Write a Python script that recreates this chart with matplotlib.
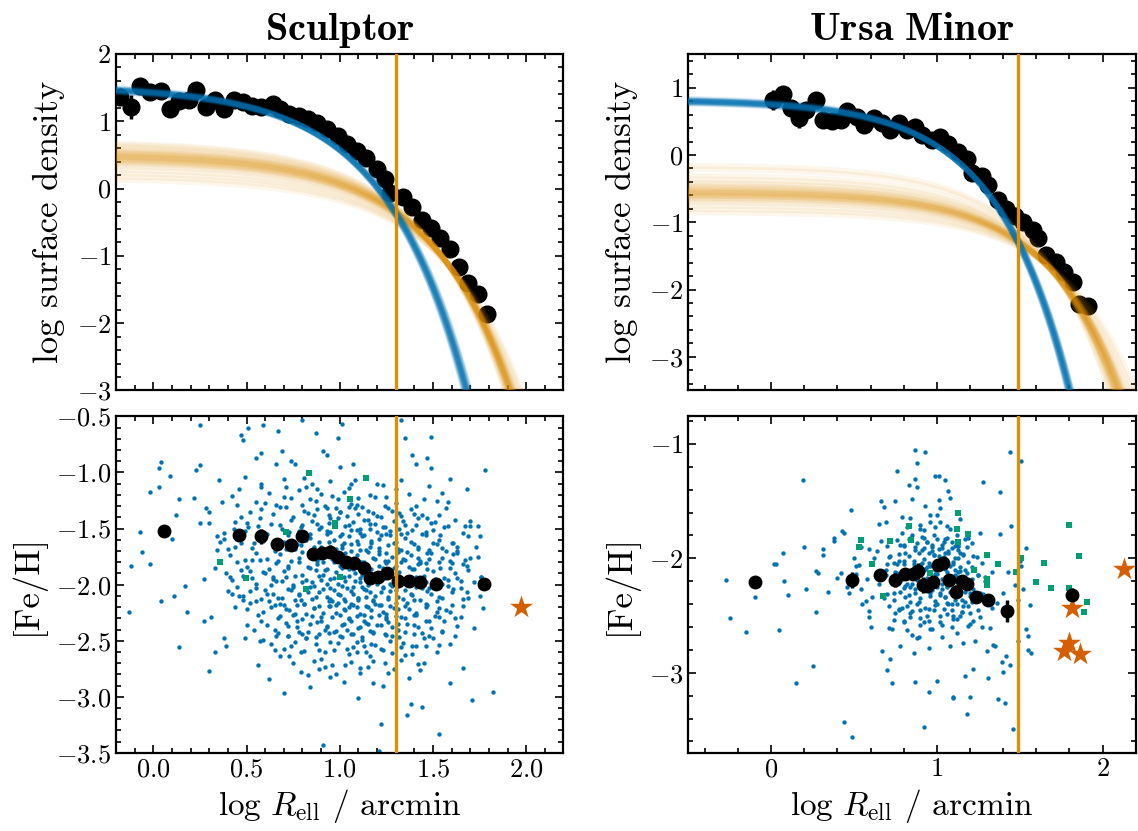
import matplotlib
matplotlib.use("Agg")
import matplotlib.pyplot as plt
import numpy as np
from matplotlib.ticker import MultipleLocator

plt.rcParams['font.family'] = 'serif'
plt.rcParams['font.serif'] = ['cmr10']
plt.rcParams['mathtext.fontset'] = 'cm'
plt.rcParams['axes.formatter.use_mathtext'] = True

BLUE = '#0173b2'
ORANGE = '#de8f05'
GREEN = '#029e73'
RED = '#d55e00'

# ---------------- Sculptor: surface density profile ----------------
scl_prof_x = [-0.18, -0.12, -0.07, -0.02, 0.04, 0.09, 0.14, 0.19, 0.23, 0.28, 0.33, 0.38,
              0.43, 0.48, 0.53, 0.58, 0.64, 0.68, 0.73, 0.78, 0.83, 0.88, 0.93, 0.99,
              1.04, 1.09, 1.14, 1.20, 1.24, 1.27, 1.34, 1.39, 1.44, 1.49, 1.54, 1.59,
              1.64, 1.69, 1.74, 1.79]
scl_prof_y = [1.36, 1.21, 1.53, 1.43, 1.45, 1.18, 1.30, 1.32, 1.46, 1.22, 1.32, 1.18,
              1.32, 1.28, 1.23, 1.22, 1.26, 1.18, 1.11, 1.08, 1.03, 0.98, 0.88, 0.78,
              0.66, 0.56, 0.45, 0.29, 0.14, -0.07, -0.13, -0.27, -0.47, -0.59, -0.74, -0.90,
              -1.16, -1.40, -1.56, -1.87]
scl_prof_err = [0.06, 0.18, 0.04, 0.04, 0.04, 0.04, 0.03, 0.03, 0.03, 0.03, 0.03, 0.03,
                0.03, 0.03, 0.03, 0.03, 0.03, 0.03, 0.03, 0.03, 0.03, 0.03, 0.03, 0.03,
                0.03, 0.03, 0.03, 0.03, 0.03, 0.03, 0.03, 0.04, 0.04, 0.04, 0.05, 0.05,
                0.05, 0.06, 0.07, 0.08]

# posterior draws of the two exponential components (log central density, scale radius / arcmin)
scl_in_logS0 = [1.50, 1.52, 1.53, 1.51, 1.54, 1.49, 1.52, 1.55, 1.50, 1.53, 1.51, 1.52,
                1.54, 1.48, 1.53, 1.51, 1.52, 1.50, 1.56, 1.52, 1.51, 1.53, 1.49, 1.52]
scl_in_Rs = [4.62, 4.50, 4.58, 4.72, 4.46, 4.80, 4.60, 4.42, 4.68, 4.55, 4.66, 4.59,
             4.48, 4.85, 4.53, 4.64, 4.60, 4.75, 4.40, 4.57, 4.70, 4.52, 4.78, 4.61]
scl_out_logS0 = [0.50, 0.45, 0.55, 0.48, 0.52, 0.40, 0.60, 0.35, 0.65, 0.50, 0.47, 0.53,
                 0.30, 0.70, 0.44, 0.56, 0.25, 0.58, 0.42, 0.62, 0.49, 0.51, 0.20, 0.38,
                 0.54, 0.46, 0.15, 0.68, 0.57, 0.43]
scl_out_Rs = [10.2, 10.5, 9.9, 10.3, 10.1, 10.9, 9.6, 11.2, 9.3, 10.2, 10.4, 10.0,
              11.5, 9.0, 10.6, 9.8, 12.0, 9.7, 10.8, 9.45, 10.25, 10.15, 12.5, 11.0,
              10.0, 10.45, 13.0, 9.1, 9.75, 10.7]

# ---------------- Ursa Minor: surface density profile ----------------
umi_prof_x = [0.01, 0.07, 0.12, 0.17, 0.21, 0.27, 0.31, 0.37, 0.42, 0.46, 0.52, 0.56,
              0.62, 0.67, 0.72, 0.77, 0.82, 0.87, 0.91, 0.97, 1.02, 1.07, 1.13, 1.18,
              1.21, 1.27, 1.31, 1.37, 1.42, 1.47, 1.52, 1.58, 1.61, 1.66, 1.72, 1.77,
              1.82, 1.86, 1.91]
umi_prof_y = [0.82, 0.90, 0.70, 0.55, 0.67, 0.82, 0.52, 0.50, 0.52, 0.65, 0.57, 0.45,
              0.55, 0.47, 0.37, 0.47, 0.37, 0.42, 0.30, 0.22, 0.27, 0.17, 0.05, -0.06,
              -0.27, -0.32, -0.45, -0.67, -0.80, -0.90, -1.00, -1.12, -1.24, -1.49, -1.59, -1.74,
              -1.89, -2.21, -2.24]
umi_prof_err = [0.15, 0.08, 0.08, 0.15, 0.06, 0.06, 0.08, 0.06, 0.05, 0.05, 0.05, 0.05,
                0.05, 0.05, 0.05, 0.05, 0.05, 0.05, 0.05, 0.05, 0.05, 0.05, 0.05, 0.05,
                0.05, 0.05, 0.05, 0.05, 0.05, 0.05, 0.05, 0.05, 0.05, 0.06, 0.06, 0.06,
                0.07, 0.07, 0.08]
umi_in_logS0 = [0.82, 0.80, 0.84, 0.81, 0.83, 0.79, 0.82, 0.85, 0.80, 0.83, 0.81, 0.82,
                0.84, 0.78, 0.83, 0.81, 0.82, 0.80, 0.86, 0.82, 0.81, 0.83, 0.79, 0.82]
umi_in_Rs = [6.34, 6.48, 6.22, 6.42, 6.26, 6.58, 6.36, 6.14, 6.50, 6.24, 6.44, 6.33,
             6.18, 6.62, 6.27, 6.40, 6.35, 6.52, 6.10, 6.30, 6.46, 6.22, 6.56, 6.34]
umi_out_logS0 = [-0.55, -0.50, -0.60, -0.52, -0.58, -0.45, -0.65, -0.40, -0.70, -0.55,
                 -0.48, -0.62, -0.35, -0.75, -0.53, -0.57, -0.30, -0.80, -0.50, -0.60,
                 -0.20, -0.42, -0.67, -0.56, -0.85, -0.15, -0.63, -0.47, -0.54, -0.59]
umi_out_Rs = [18.4, 17.4, 19.4, 17.8, 19.0, 17.1, 20.2, 16.5, 21.3, 18.3,
              17.2, 19.6, 15.9, 22.6, 18.0, 18.8, 15.4, 24.1, 17.5, 19.3,
              14.5, 16.7, 20.6, 18.6, 25.9, 14.1, 19.9, 17.0, 18.2, 19.2]

# ---------------- Sculptor: [Fe/H] of member stars ----------------
scl_star_x = [-0.12, -0.13, -0.07, -0.06, -0.02, -0.02, 0.03, 0.04, 0.04, 0.03, 0.09, 0.10, 0.11,
              0.12, 0.14, 0.14, 0.17, 0.18, 0.22, 0.23, 0.25, 0.25, 0.25, 0.27, 0.27, 0.28,
              0.30, 0.30, 0.31, 0.30, 0.33, 0.34, 0.34, 0.35, 0.37, 0.38, 0.38, 0.39, 0.41,
              0.42, 0.42, 0.44, 0.45, 0.46, 0.47, 0.48, 0.48, 0.49, 0.49, 0.50, 0.51, 0.52,
              0.53, 0.55, 0.55, 0.56, 0.58, 0.58, 0.59, 0.59, 0.60, 0.62, 0.64, 0.65, 0.66,
              0.67, 0.68, 0.69, 0.70, 0.71, 0.72, 0.73, 0.74, 0.76, 0.77, 0.78, 0.79, 0.80,
              0.81, 0.82, 0.83, 0.84, 0.85, 0.87, 0.88, 0.89, 0.89, 0.91, 0.91, 0.92, 0.92,
              0.93, 0.95, 0.96, 0.97, 0.98, 0.99, 1.00, 1.01, 1.02, 1.03, 1.04, 1.05, 1.06,
              1.07, 1.08, 1.09, 1.09, 1.10, 1.11, 1.12, 1.13, 1.14, 1.15, 1.16, 1.18, 1.20,
              1.21, 1.22, 1.23, 1.24, 1.25, 1.28, 1.29, 1.30, 1.31, 1.33, 1.33, 1.35, 1.36,
              1.37, 1.38, 1.39, 1.39, 1.41, 1.42, 1.43, 1.44, 1.45, 1.46, 1.47, 1.48, 1.49,
              1.49, 1.50, 1.51, 1.52, 1.53, 1.53, 1.55, 1.55, 1.56, 1.57, 1.58, 1.59, 1.59,
              1.60, 1.61, 1.62, 1.63, 1.65, 1.65, 1.66, 1.67, 1.68, 1.69, 1.70, 1.70, 1.71,
              1.72, 1.73, 1.74, 1.75, 1.76, 1.77, 1.78, 1.82,
              0.62, 0.70, 0.78, 0.84, 0.90, 0.96, 1.02, 1.10, 1.16, 1.25, 1.37, 1.45, 0.55, 0.66,
              0.58, 0.64, 0.71, 0.75, 0.81, 0.86, 0.92, 0.95, 1.00, 1.04, 1.08, 1.13, 1.18,
              1.22, 1.28, 1.34, 1.40, 1.47, 1.53, 1.62, 0.47, 0.52,
              0.49, 0.56, 0.61, 0.68, 0.73, 0.79, 0.83, 0.88, 0.93, 0.97, 1.01, 1.05, 1.09,
              1.12, 1.16, 1.20, 1.24, 1.27, 1.32, 1.36, 1.41, 1.44, 1.50, 1.56, 1.66, 0.43,
              0.47, 0.53, 0.59, 0.65, 0.70, 0.76, 0.82, 0.86, 0.90, 0.94, 0.98, 1.02, 1.06,
              1.10, 1.14, 1.17, 1.21, 1.25, 1.29, 1.33, 1.38, 1.42, 1.47, 1.52, 1.57, 1.63,
              0.40, 0.36,
              0.45, 0.50, 0.57, 0.62, 0.67, 0.72, 0.78, 0.84, 0.88, 0.92, 0.96, 1.00, 1.04,
              1.07, 1.11, 1.15, 1.19, 1.23, 1.26, 1.30, 1.35, 1.39, 1.43, 1.48, 1.54, 1.59,
              1.68, 0.33,
              0.42, 0.48, 0.55, 0.60, 0.66, 0.71, 0.75, 0.80, 0.85, 0.89, 0.93, 0.97, 1.01,
              1.05, 1.08, 1.12, 1.16, 1.20, 1.24, 1.28, 1.32, 1.37, 1.41, 1.45, 1.51, 1.58,
              1.63, 1.72,
              0.46, 0.52, 0.58, 0.64, 0.69, 0.74, 0.79, 0.83, 0.87, 0.91, 0.95, 0.99, 1.03,
              1.06, 1.10, 1.14, 1.18, 1.22, 1.26, 1.30, 1.34, 1.38, 1.43, 1.47, 1.53, 1.60,
              1.66,
              0.50, 0.56, 0.63, 0.68, 0.73, 0.77, 0.82, 0.86, 0.90, 0.94, 0.98, 1.02, 1.05,
              1.09, 1.13, 1.17, 1.21, 1.25, 1.29, 1.33, 1.37, 1.41, 1.46, 1.51, 1.57, 1.62,
              0.54, 0.61, 0.67, 0.72, 0.78, 0.84, 0.89, 0.93, 0.97, 1.01, 1.07, 1.11, 1.16,
              1.20, 1.24, 1.28, 1.35, 1.40, 1.44, 1.49, 1.55,
              0.63, 0.70, 0.76, 0.81, 0.87, 0.92, 0.99, 1.04, 1.09, 1.14, 1.19, 1.23, 1.27,
              1.33, 1.39, 1.46, 1.52,
              0.75, 0.86, 0.96, 1.06, 1.15, 1.24, 1.33, 1.42]
scl_star_feh = [-1.83, -2.24, -1.53, -1.71, -1.17, -1.82, -1.13, -2.15, -0.91, -0.96, -1.03, -1.59, -2.10,
                -1.38, -2.56, -1.24, -2.01, -2.24, -1.23, -0.98, -0.93, -0.58, -1.45, -1.95, -2.32, -1.32,
                -1.35, -2.77, -2.29, -1.45, -2.60, -1.69, -1.57, -1.07, -1.26, -2.48, -1.54, -2.55, -1.93,
                -2.08, -1.21, -1.66, -2.02, -1.15, -0.67, -0.71, -2.14, -2.48, -1.04, -1.45, -0.60, -1.88,
                -1.78, -2.15, -0.87, -2.72, -0.83, -1.13, -0.58, -2.49, -2.05, -2.84, -1.93, -2.58, -0.92,
                -0.63, -2.17, -0.81, -2.97, -1.13, -2.46, -2.64, -0.90, -0.92, -2.32, -2.08, -2.60, -0.53,
                -1.05, -2.48, -2.81, -2.91, -1.10, -0.65, -1.15, -2.75, -1.76, -0.81, -3.43, -2.40, -2.73,
                -0.84, -2.82, -2.15, -2.58, -1.32, -0.69, -0.95, -0.57, -2.87, -2.72, -2.40, -2.20, -1.10,
                -0.92, -1.07, -2.60, -1.29, -3.01, -2.79, -1.91, -2.55, -2.11, -2.35, -2.64, -2.88, -1.10,
                -3.48, -3.24, -2.90, -1.30, -2.29, -2.61, -2.75, -1.15, -2.35, -0.53, -1.39, -0.69, -3.16,
                -2.83, -3.06, -0.84, -2.55, -0.92, -1.76, -2.76, -3.09, -2.48, -1.81, -0.87, -2.03, -0.68,
                -0.96, -1.63, -1.44, -2.24, -3.33, -2.54, -1.18, -1.99, -2.32, -1.32, -1.26, -2.88, -1.06,
                -1.81, -1.63, -2.46, -1.72, -1.97, -2.29, -2.74, -1.48, -1.15, -2.12, -1.76, -1.48, -3.03,
                -2.39, -1.66, -1.48, -1.57, -1.93, -2.21, -0.98, -2.96,
                -1.18, -1.22, -1.16, -1.24, -1.19, -1.21, -1.17, -1.23, -1.20, -1.22, -1.19, -1.24, -1.26, -1.29,
                -1.33, -1.37, -1.31, -1.40, -1.34, -1.38, -1.30, -1.41, -1.35, -1.39, -1.32, -1.42, -1.36,
                -1.40, -1.34, -1.43, -1.37, -1.41, -1.38, -1.42, -1.40, -1.35,
                -1.52, -1.48, -1.55, -1.47, -1.53, -1.49, -1.56, -1.46, -1.52, -1.48, -1.55, -1.47, -1.51,
                -1.57, -1.46, -1.53, -1.49, -1.56, -1.50, -1.54, -1.47, -1.55, -1.51, -1.49, -1.54, -1.50,
                -1.63, -1.67, -1.61, -1.70, -1.62, -1.68, -1.60, -1.66, -1.72, -1.62, -1.68, -1.63, -1.70,
                -1.64, -1.69, -1.61, -1.67, -1.72, -1.63, -1.69, -1.62, -1.68, -1.72, -1.64, -1.70, -1.66,
                -1.68, -1.62,
                -1.80, -1.84, -1.78, -1.86, -1.79, -1.83, -1.76, -1.85, -1.79, -1.87, -1.77, -1.83, -1.78,
                -1.86, -1.80, -1.84, -1.77, -1.85, -1.79, -1.83, -1.78, -1.86, -1.81, -1.77, -1.85, -1.79,
                -1.83, -1.85,
                -1.96, -1.92, -1.99, -1.90, -1.97, -1.93, -2.00, -1.91, -1.98, -1.92, -1.99, -1.94, -2.01,
                -1.92, -1.97, -2.02, -1.93, -1.99, -1.94, -2.01, -1.92, -1.98, -1.93, -2.00, -1.95, -2.01,
                -1.94, -1.98,
                -2.10, -2.06, -2.13, -2.08, -2.12, -2.05, -2.14, -2.07, -2.11, -2.04, -2.13, -2.08, -2.15,
                -2.06, -2.12, -2.05, -2.14, -2.07, -2.11, -2.05, -2.13, -2.08, -2.14, -2.06, -2.11, -2.07,
                -2.13,
                -2.22, -2.27, -2.20, -2.28, -2.23, -2.18, -2.26, -2.21, -2.29, -2.19, -2.25, -2.22, -2.30,
                -2.20, -2.27, -2.23, -2.18, -2.26, -2.21, -2.29, -2.22, -2.27, -2.20, -2.28, -2.23, -2.30,
                -2.40, -2.36, -2.43, -2.37, -2.42, -2.35, -2.44, -2.38, -2.42, -2.36, -2.44, -2.38, -2.41,
                -2.36, -2.44, -2.38, -2.42, -2.36, -2.43, -2.39, -2.42,
                -2.53, -2.57, -2.51, -2.59, -2.53, -2.60, -2.52, -2.57, -2.51, -2.60, -2.54, -2.58, -2.50,
                -2.56, -2.62, -2.55, -2.60,
                -2.70, -2.68, -2.72, -2.69, -2.73, -2.70, -2.67, -2.71]

# more stars from the crowded centre of the Sculptor panel
scl_core_x = [0.60, 0.68, 0.74, 0.80, 0.87, 0.93, 0.99, 1.06, 1.12, 1.19, 1.30, 1.41, 1.52, 0.45,
              0.44, 0.51, 0.57, 0.63, 0.69, 0.74, 0.80, 0.85, 0.90, 0.94, 0.99, 1.03, 1.07, 1.11,
              1.15, 1.19, 1.23, 1.29, 1.35, 1.42, 1.49, 1.58, 1.70,
              0.38, 0.46, 0.54, 0.60, 0.66, 0.72, 0.77, 0.84, 0.89, 0.93, 0.97, 1.01, 1.05, 1.09,
              1.13, 1.17, 1.21, 1.25, 1.30, 1.35, 1.40, 1.46, 1.53, 1.60, 1.69,
              0.41, 0.49, 0.55, 0.61, 0.68, 0.74, 0.80, 0.86, 0.91, 0.95, 0.99, 1.03, 1.06, 1.09,
              1.12, 1.15, 1.18, 1.21, 1.24, 1.28, 1.31, 1.34, 1.38, 1.43, 1.49, 1.55, 1.61, 1.67, 1.74,
              0.39, 0.47, 0.53, 0.59, 0.64, 0.70, 0.76, 0.82, 0.87, 0.91, 0.95, 0.98, 1.02, 1.05,
              1.08, 1.11, 1.14, 1.17, 1.20, 1.23, 1.26, 1.29, 1.32, 1.36, 1.40, 1.45, 1.50, 1.56,
              1.62, 1.69, 1.76,
              0.40, 0.48, 0.55, 0.61, 0.67, 0.72, 0.78, 0.84, 0.89, 0.93, 0.97, 1.00, 1.04, 1.07,
              1.10, 1.13, 1.16, 1.19, 1.23, 1.27, 1.31, 1.35, 1.39, 1.44, 1.49, 1.55, 1.61, 1.68, 1.75,
              0.44, 0.52, 0.59, 0.65, 0.71, 0.76, 0.81, 0.86, 0.91, 0.95, 0.99, 1.03, 1.07, 1.11,
              1.15, 1.19, 1.23, 1.27, 1.31, 1.36, 1.41, 1.47, 1.53, 1.59, 1.66,
              0.50, 0.58, 0.65, 0.71, 0.77, 0.83, 0.88, 0.93, 0.98, 1.02, 1.06, 1.10, 1.14, 1.18,
              1.22, 1.26, 1.31, 1.36, 1.42, 1.48, 1.55, 1.63,
              0.57, 0.66, 0.74, 0.82, 0.89, 0.95, 1.01, 1.07, 1.12, 1.17, 1.22, 1.28, 1.34, 1.41,
              1.50, 1.59,
              0.68, 0.79, 0.90, 0.98, 1.05, 1.11, 1.18, 1.26, 1.35, 1.45,
              0.58, 0.70, 0.82, 0.95, 1.05, 1.14, 1.23, 1.33, 1.48,
              0.83, 0.88, 0.94, 1.00, 1.05, 1.10, 1.15, 1.20, 1.26, 1.32, 1.38, 1.44,
              0.78, 0.84, 0.89, 0.95, 1.00, 1.06, 1.11, 1.16, 1.22, 1.27, 1.33, 1.39, 1.46, 1.54,
              0.71, 0.79, 0.85, 0.90, 0.96, 1.01, 1.06, 1.11, 1.16, 1.21, 1.26, 1.31, 1.36, 1.42,
              1.48, 1.55, 1.63,
              0.66, 0.72, 0.78, 0.83, 0.88, 0.93, 0.97, 1.01, 1.05, 1.09, 1.13, 1.17, 1.21, 1.25,
              1.29, 1.33, 1.37, 1.42, 1.47, 1.53, 1.59, 1.66,
              0.63, 0.69, 0.75, 0.80, 0.86, 0.90, 0.95, 0.99, 1.03, 1.07, 1.11, 1.15, 1.19, 1.23,
              1.27, 1.31, 1.36, 1.41, 1.46, 1.52, 1.58, 1.65,
              0.62, 0.70, 0.76, 0.81, 0.85, 0.89, 0.94, 0.98, 1.02, 1.06, 1.10, 1.14, 1.18, 1.22,
              1.26, 1.30, 1.35, 1.40, 1.46, 1.52, 1.60,
              0.67, 0.75, 0.80, 0.85, 0.90, 0.96, 1.00, 1.05, 1.09, 1.13, 1.17, 1.21, 1.25, 1.30,
              1.35, 1.40, 1.46, 1.53,
              0.72, 0.80, 0.87, 0.94, 1.00, 1.06, 1.12, 1.18, 1.25, 1.32, 1.40, 1.48]
scl_core_feh = [-1.27, -1.31, -1.23, -1.29, -1.25, -1.32, -1.24, -1.28, -1.31, -1.22, -1.27, -1.30, -1.25, -1.29,
                -1.44, -1.49, -1.41, -1.46, -1.50, -1.42, -1.47, -1.43, -1.49, -1.45, -1.41, -1.48, -1.44, -1.50,
                -1.42, -1.46, -1.49, -1.43, -1.47, -1.41, -1.45, -1.48, -1.43,
                -1.59, -1.55, -1.63, -1.57, -1.61, -1.56, -1.64, -1.58, -1.62, -1.55, -1.60, -1.65, -1.57, -1.61,
                -1.56, -1.63, -1.59, -1.55, -1.62, -1.58, -1.64, -1.56, -1.60, -1.63, -1.57,
                -1.74, -1.78, -1.72, -1.77, -1.73, -1.79, -1.71, -1.76, -1.80, -1.73, -1.77, -1.72, -1.78, -1.74,
                -1.80, -1.71, -1.76, -1.73, -1.79, -1.75, -1.71, -1.77, -1.74, -1.79, -1.72, -1.76, -1.73, -1.78, -1.75,
                -1.90, -1.87, -1.94, -1.89, -1.95, -1.88, -1.92, -1.96, -1.87, -1.91, -1.95, -1.89, -1.93, -1.86,
                -1.90, -1.94, -1.88, -1.92, -1.96, -1.87, -1.91, -1.95, -1.89, -1.93, -1.86, -1.92, -1.88, -1.94,
                -1.90, -1.87, -1.93,
                -2.06, -2.10, -2.03, -2.08, -2.12, -2.04, -2.09, -2.02, -2.07, -2.11, -2.05, -2.09, -2.03, -2.08,
                -2.12, -2.04, -2.07, -2.10, -2.02, -2.06, -2.11, -2.05, -2.09, -2.03, -2.08, -2.12, -2.04, -2.07, -2.10,
                -2.20, -2.16, -2.24, -2.18, -2.22, -2.26, -2.17, -2.21, -2.25, -2.19, -2.16, -2.23, -2.18, -2.26,
                -2.20, -2.17, -2.24, -2.19, -2.22, -2.16, -2.25, -2.18, -2.21, -2.24, -2.19,
                -2.36, -2.32, -2.40, -2.34, -2.38, -2.42, -2.33, -2.37, -2.41, -2.35, -2.32, -2.39, -2.34, -2.42,
                -2.36, -2.33, -2.40, -2.35, -2.38, -2.32, -2.41, -2.37,
                -2.50, -2.46, -2.55, -2.48, -2.58, -2.51, -2.47, -2.56, -2.49, -2.53, -2.57, -2.46, -2.52, -2.55,
                -2.48, -2.53,
                -2.64, -2.78, -2.66, -2.80, -2.62, -2.74, -2.68, -2.79, -2.63, -2.70,
                -1.10, -1.06, -1.13, -1.08, -1.14, -1.05, -1.11, -1.07, -1.12,
                -1.36, -1.33, -1.38, -1.35, -1.31, -1.37, -1.34, -1.39, -1.32, -1.36, -1.33, -1.38,
                -1.52, -1.55, -1.50, -1.53, -1.57, -1.51, -1.54, -1.50, -1.56, -1.52, -1.55, -1.51, -1.53, -1.56,
                -1.68, -1.65, -1.69, -1.66, -1.70, -1.67, -1.64, -1.69, -1.66, -1.70, -1.65, -1.68, -1.71, -1.66,
                -1.69, -1.67, -1.70,
                -1.81, -1.85, -1.80, -1.84, -1.82, -1.86, -1.80, -1.85, -1.81, -1.84, -1.80, -1.86, -1.83, -1.81,
                -1.85, -1.80, -1.84, -1.82, -1.86, -1.80, -1.85, -1.82,
                -2.00, -1.97, -2.02, -1.98, -2.01, -1.96, -2.03, -1.99, -1.97, -2.02, -1.98, -2.00, -1.96, -2.03,
                -1.99, -2.01, -1.97, -2.02, -1.98, -2.00, -1.96, -2.03,
                -2.15, -2.18, -2.14, -2.17, -2.13, -2.19, -2.15, -2.18, -2.13, -2.17, -2.14, -2.19, -2.15, -2.18,
                -2.13, -2.16, -2.19, -2.14, -2.17, -2.15, -2.18,
                -2.30, -2.27, -2.31, -2.28, -2.32, -2.29, -2.27, -2.31, -2.28, -2.32, -2.29, -2.27, -2.31, -2.28,
                -2.30, -2.27, -2.32, -2.29,
                -2.46, -2.44, -2.47, -2.43, -2.46, -2.44, -2.47, -2.43, -2.45, -2.47, -2.44, -2.46]

scl_bin_x = [0.055, 0.457, 0.58, 0.665, 0.736, 0.80, 0.859, 0.906, 0.95, 0.99, 1.035,
             1.076, 1.13, 1.16, 1.203, 1.254, 1.313, 1.37, 1.43, 1.515, 1.776]
scl_bin_feh = [-1.52, -1.557, -1.57, -1.64, -1.645, -1.57, -1.726, -1.72, -1.705, -1.75, -1.80,
               -1.81, -1.854, -1.943, -1.934, -1.90, -1.967, -1.964, -1.98, -1.994, -1.994]
scl_bin_err = [0.04, 0.04, 0.07, 0.04, 0.04, 0.05, 0.04, 0.04, 0.06, 0.04, 0.04,
               0.04, 0.04, 0.04, 0.04, 0.04, 0.04, 0.04, 0.04, 0.04, 0.04]

scl_sq_x = [0.833, 1.143, 1.056, 0.977, 0.977, 0.714, 0.358, 0.497, 1.0, 0.82]
scl_sq_feh = [-1.006, -1.05, -1.238, -1.452, -1.48, -1.527, -1.795, -1.943, -1.93, -2.04]
scl_vmp_x = [1.97]
scl_vmp_feh = [-2.20]

# ---------------- Ursa Minor: [Fe/H] of member stars ----------------
umi_star_x = [-0.27, -0.25, -0.15, -0.10, 0.02, 0.03, 0.05, 0.07, 0.08, 0.10, 0.15, 0.19, 0.20,
              0.21, 0.25, 0.27, 0.27, 0.28, 0.31, 0.31, 0.34, 0.38, 0.38, 0.40, 0.42, 0.43, 0.44,
              0.44, 0.47, 0.48, 0.49, 0.51, 0.51, 0.53, 0.54, 0.54, 0.57, 0.59, 0.59, 0.59, 0.61,
              0.64, 0.65, 0.66, 0.66, 0.67, 0.68, 0.69, 0.69, 0.70, 0.70, 0.71, 0.71, 0.72, 0.73,
              0.74, 0.75, 0.76, 0.76, 0.77, 0.77, 0.78, 0.79, 0.79, 0.79, 0.80, 0.80, 0.80, 0.81,
              0.82, 0.83, 0.83, 0.84, 0.85, 0.85, 0.85, 0.86, 0.87, 0.87, 0.87, 0.88, 0.88, 0.89,
              0.90, 0.90, 0.91, 0.92, 0.92, 0.92, 0.93, 0.93, 0.94, 0.95, 0.95, 0.95, 0.96, 0.97,
              0.97, 0.98, 0.99, 0.99, 1.00, 1.00, 1.01, 1.01, 1.02, 1.02, 1.03, 1.03, 1.05, 1.06,
              1.06, 1.07, 1.08, 1.08, 1.10, 1.10, 1.11, 1.11, 1.12, 1.12, 1.13, 1.14, 1.14, 1.15,
              1.16, 1.17, 1.17, 1.18, 1.19, 1.19, 1.20, 1.20, 1.21, 1.22, 1.22, 1.23, 1.24, 1.25,
              1.26, 1.27, 1.27, 1.28, 1.29, 1.30, 1.31, 1.32, 1.33, 1.34, 1.35, 1.36, 1.37, 1.38,
              1.38, 1.39, 1.40, 1.41, 1.42, 1.43, 1.43, 1.44, 1.44, 1.45, 1.46, 1.47, 1.49, 1.49,
              1.50, 1.51, 1.51, 1.52, 1.54, 1.54, 1.55, 1.55, 1.56, 1.57,
              0.72, 0.75, 0.78, 0.81, 0.83, 0.86, 0.88, 0.89, 0.91, 0.93, 0.94, 0.96, 0.97,
              0.99, 1.00, 1.01, 1.03, 1.04, 1.05, 1.07, 1.08, 1.09, 1.10, 1.12, 1.13, 1.15,
              1.16, 1.18, 1.19, 1.21, 1.23, 1.25, 0.74, 0.77, 0.80, 0.84, 0.87, 0.90, 0.92,
              0.95, 0.98, 1.02, 1.04, 1.06, 1.09, 1.11, 1.14, 1.17, 1.20, 1.22, 0.65, 0.68,
              0.70, 0.62, 0.58, 0.55, 0.46, 0.50, 0.60, 0.73, 0.82, 0.88, 0.96, 1.03, 1.12,
              1.26, 1.30, 1.33, 1.36, 1.40, 0.85, 0.92, 0.98, 1.05, 1.12, 1.18, 0.78, 0.95,
              1.00, 0.90, 1.07, 0.94, 1.15, 0.85, 1.10]
umi_star_feh = [-2.19, -2.52, -2.64, -2.34, -2.05, -2.05, -2.63, -1.95, -2.20, -2.32, -3.09, -1.32, -1.90,
                -2.27, -2.94, -2.47, -2.11, -2.13, -1.92, -1.97, -2.29, -1.82, -1.85, -2.17, -2.13, -1.76, -1.78,
                -3.43, -2.30, -1.58, -3.56, -2.07, -2.14, -2.06, -1.90, -2.27, -2.37, -2.46, -2.51, -1.92, -2.34,
                -1.94, -1.70, -1.50, -1.85, -2.81, -1.55, -2.10, -1.68, -2.98, -1.89, -2.42, -2.61, -2.88, -3.09,
                -2.54, -1.50, -2.05, -1.24, -2.02, -2.44, -2.77, -1.64, -1.78, -2.43, -2.26, -1.89, -2.56, -2.24,
                -1.73, -1.36, -1.83, -2.51, -2.10, -2.67, -1.48, -2.83, -1.05, -3.08, -1.31, -1.38, -1.17, -2.69,
                -1.74, -2.45, -2.04, -1.75, -2.56, -3.47, -1.07, -1.54, -1.86, -2.78, -3.17, -2.55, -1.68, -2.62,
                -2.18, -1.97, -1.73, -1.28, -1.62, -3.07, -1.49, -1.28, -1.56, -2.32, -2.69, -1.91, -1.32, -1.72,
                -2.39, -1.41, -1.47, -2.77, -3.21, -3.22, -1.89, -2.15, -2.53, -2.65, -1.89, -1.95, -2.11, -2.47,
                -2.74, -2.29, -3.03, -3.36, -1.82, -2.59, -3.21, -2.48, -2.38, -2.97, -2.27, -2.72, -1.99, -2.45,
                -1.78, -2.60, -2.04, -1.33, -2.16, -2.81, -3.05, -2.61, -2.12, -2.76, -2.77, -2.39, -3.23, -1.42,
                -1.79, -2.91, -2.99, -3.26, -2.85, -2.48, -2.12, -2.93, -1.07, -1.72, -3.49, -2.23, -2.72, -2.36,
                -2.02, -2.07, -1.15, -2.27, -1.91, -2.62, -2.68, -2.80, -2.41, -2.83,
                -1.98, -2.12, -2.20, -1.95, -2.32, -2.02, -2.16, -2.38, -1.93, -2.25, -2.08, -2.30, -1.88,
                -2.14, -2.40, -1.98, -2.22, -2.05, -2.34, -1.94, -2.17, -2.45, -2.03, -2.28, -2.12, -2.36,
                -1.97, -2.20, -2.42, -2.08, -2.31, -2.15, -2.30, -2.45, -2.05, -2.48, -1.90, -2.52, -2.10,
                -2.44, -2.23, -2.50, -1.86, -2.25, -2.60, -2.00, -2.50, -2.10, -2.33, -2.55, -2.22, -2.35,
                -2.05, -2.00, -2.18, -2.40, -2.25, -2.00, -2.60, -2.62, -2.63, -2.70, -2.62, -2.58, -2.40,
                -2.30, -2.20, -2.43, -2.05, -2.30, -1.80, -1.82, -1.80, -1.83, -1.80, -1.90, -1.88, -1.95,
                -2.05, -2.25, -2.40, -2.18, -2.20, -2.22, -2.50]

umi_core_x = [0.71, 0.74, 0.77, 0.80, 0.83, 0.86, 0.89, 0.92, 0.95, 0.98, 1.01, 1.04, 1.07, 1.10,
              1.13, 1.16, 1.19, 1.22,
              0.69, 0.73, 0.76, 0.79, 0.82, 0.85, 0.88, 0.91, 0.94, 0.97, 1.00, 1.03, 1.06, 1.09,
              1.12, 1.15, 1.18, 1.21, 1.25, 1.29,
              0.70, 0.74, 0.78, 0.81, 0.84, 0.87, 0.90, 0.93, 0.96, 0.99, 1.02, 1.05, 1.08, 1.11,
              1.14, 1.17, 1.20, 1.24, 1.28,
              0.76, 0.80, 0.84, 0.88, 0.91, 0.94, 0.97, 1.00, 1.03, 1.06, 1.09, 1.13, 1.17, 1.21,
              0.75, 0.80, 0.85, 0.90, 0.94, 0.98, 1.02, 1.06, 1.10, 1.15, 1.20, 1.26,
              0.84, 0.90, 0.96, 1.02, 1.08, 1.14,
              0.86, 0.90, 0.93, 0.96, 0.99, 1.02, 1.05, 1.08, 1.11, 1.14,
              0.84, 0.87, 0.91, 0.94, 0.97, 1.00, 1.03, 1.06, 1.10, 1.13, 1.17,
              0.87, 0.92, 0.97, 1.01, 1.05, 1.09, 1.13,
              0.82, 0.88, 0.93, 0.99, 1.04, 1.09, 1.16]
umi_core_feh = [-1.99, -2.04, -1.96, -2.02, -1.98, -2.05, -1.95, -2.01, -2.04, -1.97, -2.03, -1.99, -1.95, -2.05,
                -2.00, -1.96, -2.03, -1.98,
                -2.15, -2.20, -2.13, -2.18, -2.22, -2.14, -2.19, -2.12, -2.17, -2.21, -2.14, -2.18, -2.12, -2.20,
                -2.16, -2.22, -2.13, -2.18, -2.15, -2.20,
                -2.31, -2.36, -2.29, -2.34, -2.38, -2.30, -2.35, -2.28, -2.33, -2.37, -2.30, -2.34, -2.29, -2.36,
                -2.32, -2.38, -2.30, -2.34, -2.31,
                -1.84, -1.88, -1.82, -1.87, -1.81, -1.86, -1.90, -1.83, -1.88, -1.82, -1.86, -1.89, -1.83, -1.87,
                -2.48, -2.55, -2.46, -2.58, -2.50, -2.45, -2.56, -2.49, -2.53, -2.47, -2.57, -2.51,
                -1.65, -1.71, -1.62, -1.68, -1.74, -1.66,
                -2.08, -2.06, -2.09, -2.07, -2.10, -2.06, -2.09, -2.07, -2.10, -2.08,
                -2.25, -2.27, -2.24, -2.26, -2.28, -2.25, -2.27, -2.24, -2.26, -2.28, -2.25,
                -1.93, -1.91, -1.94, -1.92, -1.95, -1.91, -1.93,
                -2.42, -2.40, -2.43, -2.41, -2.44, -2.40, -2.42]

umi_bin_x = [-0.10, 0.49, 0.656, 0.75, 0.81, 0.856, 0.885, 0.917, 0.943, 0.976, 1.004,
             1.037, 1.074, 1.113, 1.15, 1.183, 1.237, 1.31, 1.423, 1.815]
umi_bin_feh = [-2.21, -2.19, -2.15, -2.19, -2.14, -2.14, -2.11, -2.23, -2.24, -2.21, -2.06,
               -2.04, -2.19, -2.29, -2.20, -2.22, -2.34, -2.36, -2.46, -2.32]
umi_bin_err = [0.05, 0.07, 0.05, 0.06, 0.05, 0.05, 0.07, 0.07, 0.05, 0.05, 0.05,
               0.05, 0.05, 0.06, 0.05, 0.05, 0.05, 0.05, 0.10, 0.06]

umi_sq_x = [0.53, 0.54, 0.61, 0.673, 0.717, 0.83, 0.845, 0.96, 1.13, 1.12, 1.13, 1.19, 1.227,
            1.30, 1.303, 1.303, 1.368, 1.477, 1.51, 1.60, 1.645, 1.69, 1.80, 1.80, 1.86, 1.89, 1.906]
umi_sq_feh = [-1.90, -1.84, -2.05, -2.33, -1.85, -1.72, -1.84, -2.13, -1.60, -1.74, -1.86, -1.79, -2.10,
              -1.97, -2.18, -2.23, -2.05, -2.12, -2.00, -2.21, -2.04, -2.26, -1.71, -2.26, -1.98, -2.47, -2.38]
umi_vmp_x = [1.815, 1.80, 1.767, 1.863, 2.13]
umi_vmp_feh = [-2.43, -2.74, -2.81, -2.84, -2.09]

scl_rbreak = 1.30
umi_rbreak = 1.49

logR = np.linspace(-0.6, 2.4, 400)


def style(ax):
    ax.tick_params(which='both', direction='in', top=True, right=True, labelsize=19, width=1.2)
    ax.tick_params(which='major', length=5.5)
    ax.tick_params(which='minor', length=3.3)
    for s in ax.spines.values():
        s.set_linewidth(1.6)


def profile_panel(ax, px, py, perr, in_s0, in_rs, out_s0, out_rs, rb):
    ax.errorbar(px, py, yerr=perr, fmt='o', color='black', ms=12, elinewidth=2.5,
                capsize=0, zorder=2)
    R = 10 ** logR
    for s0, rs in zip(out_s0, out_rs):
        ax.plot(logR, s0 - np.log10(np.e) * R / rs, color=ORANGE, lw=4, alpha=0.08, zorder=3)
    for s0, rs in zip(in_s0, in_rs):
        ax.plot(logR, s0 - np.log10(np.e) * R / rs, color=BLUE, lw=4, alpha=0.09, zorder=3)
    ax.axvline(rb, color=ORANGE, lw=2.4, zorder=5)
    ax.set_ylabel('log surface density', fontsize=25, labelpad=8)


def feh_panel(ax, sx, sy, qx, qy, bx, by, be, vx, vy, rb):
    ax.scatter(sx, sy, s=10, color=BLUE, lw=0, zorder=2)
    ax.scatter(qx, qy, s=14, marker='s', color=GREEN, lw=0, zorder=2)
    ax.errorbar(bx, by, yerr=be, fmt='o', color='black', ms=9, elinewidth=2.5,
                capsize=0, zorder=4)
    ax.scatter(vx, vy, s=300, marker='*', color=RED, lw=0, zorder=4)
    ax.axvline(rb, color=ORANGE, lw=2.4, zorder=5)
    ax.set_ylabel('[Fe/H]', fontsize=25, labelpad=8)
    ax.set_xlabel(r'$\log\,R_{\rm ell}$ / arcmin', fontsize=24)


fig, axes = plt.subplots(2, 2, figsize=(11.38, 8.31), dpi=100, sharex='col')
fig.subplots_adjust(left=0.102, right=0.998, bottom=0.094, top=0.935, wspace=0.279, hspace=0.077)

ax = axes[0, 0]
profile_panel(ax, scl_prof_x, scl_prof_y, scl_prof_err, scl_in_logS0, scl_in_Rs,
              scl_out_logS0, scl_out_Rs, scl_rbreak)
ax.set_ylim(-3, 2)
ax.yaxis.set_major_locator(MultipleLocator(1))
ax.yaxis.set_minor_locator(MultipleLocator(0.2))
ax.set_title(r'$\mathbf{Sculptor}$', fontsize=29, pad=10)

ax = axes[1, 0]
feh_panel(ax, scl_star_x + scl_core_x, scl_star_feh + scl_core_feh, scl_sq_x, scl_sq_feh,
          scl_bin_x, scl_bin_feh, scl_bin_err, scl_vmp_x, scl_vmp_feh, scl_rbreak)
ax.set_xlim(-0.2, 2.2)
ax.set_ylim(-3.5, -0.5)
ax.xaxis.set_major_locator(MultipleLocator(0.5))
ax.xaxis.set_minor_locator(MultipleLocator(0.1))
ax.yaxis.set_major_locator(MultipleLocator(0.5))
ax.yaxis.set_minor_locator(MultipleLocator(0.1))

ax = axes[0, 1]
profile_panel(ax, umi_prof_x, umi_prof_y, umi_prof_err, umi_in_logS0, umi_in_Rs,
              umi_out_logS0, umi_out_Rs, umi_rbreak)
ax.set_ylim(-3.5, 1.5)
ax.yaxis.set_major_locator(MultipleLocator(1))
ax.yaxis.set_minor_locator(MultipleLocator(0.2))
ax.set_title(r'$\mathbf{Ursa\ Minor}$', fontsize=29, pad=10)

ax = axes[1, 1]
feh_panel(ax, umi_star_x + umi_core_x, umi_star_feh + umi_core_feh, umi_sq_x, umi_sq_feh,
          umi_bin_x, umi_bin_feh, umi_bin_err, umi_vmp_x, umi_vmp_feh, umi_rbreak)
ax.set_xlim(-0.5, 2.2)
ax.set_ylim(-3.7, -0.76)
ax.xaxis.set_major_locator(MultipleLocator(1))
ax.xaxis.set_minor_locator(MultipleLocator(0.2))
ax.yaxis.set_major_locator(MultipleLocator(1))
ax.yaxis.set_minor_locator(MultipleLocator(0.2))

for a in axes.flat:
    style(a)

fig.savefig('out.png', dpi=100)
